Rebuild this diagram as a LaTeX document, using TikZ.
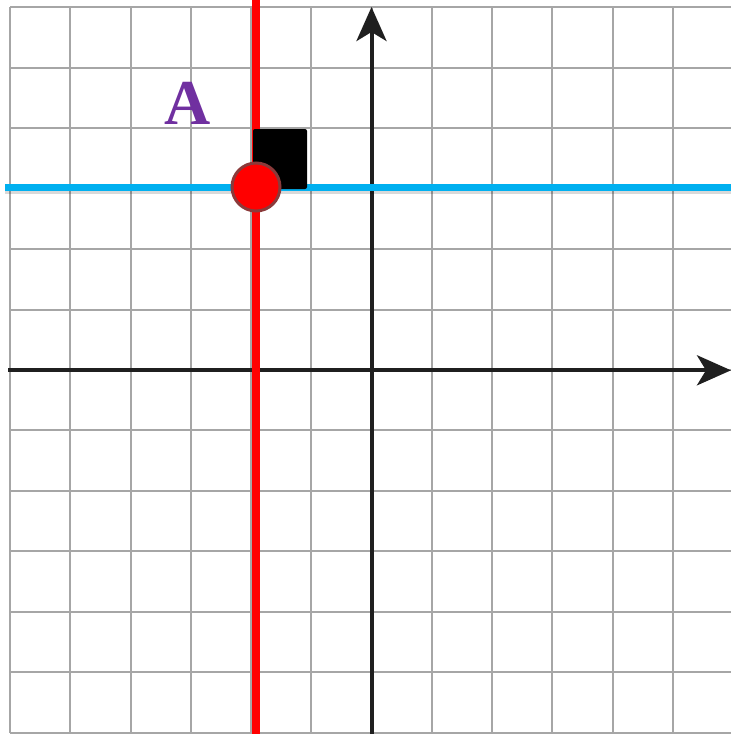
\documentclass[tikz,border=0pt]{standalone}
\usepackage{fontspec}
\setmainfont{Liberation Serif}
\usetikzlibrary{arrows.meta}
\definecolor{gridgray}{HTML}{A6A6A6}
\definecolor{skyblue}{HTML}{00B0F0}
\definecolor{ptborder}{HTML}{8B3A3A}
\definecolor{labelpurple}{HTML}{7030A0}
\tikzset{
  gridline/.style={gridgray, line width=2pt},
  axisline/.style={black!88, line width=4pt, -{Stealth[length=34pt,width=30pt,inset=9pt]}},
  redline/.style={red, line width=8pt},
  blueline/.style={skyblue, line width=7pt},
  pointdot/.style={circle, fill=red, draw=ptborder, line width=3pt, minimum size=48pt, inner sep=0pt},
  blacksq/.style={fill=black, rounded corners=2pt, minimum width=54pt, minimum height=60pt, inner sep=0pt},
  ptlabel/.style={text=labelpurple, font=\fontsize{64}{64}\selectfont\bfseries, inner sep=0pt}
}
\begin{document}
\begin{tikzpicture}[x=1pt,y=-1pt]
\useasboundingbox (0,0) rectangle (731,734);
% grid
\foreach \i in {0,...,11} {
  \draw[gridline] ({10+\i*60.25},7) -- ({10+\i*60.25},733);
}
\foreach \j in {0,...,12} {
  \draw[gridline] (10,{7.3+\j*60.45}) -- (731,{7.3+\j*60.45});
}
% axes
\coordinate (xl) at (8,370.3);
\coordinate (xr) at (731,370.3);
\coordinate (yb) at (371.5,734);
\coordinate (yt) at (371.5,7);
\draw[axisline] (xl) -- (xr);
\draw[axisline] (yb) -- (yt);
% blue line with shadow
\coordinate (bl) at (5,187.3);
\coordinate (br) at (731,187.3);
\draw[black, opacity=0.15, line width=8pt] ([yshift=-3pt]bl) -- ([yshift=-3pt]br);
\draw[blueline] (bl) -- (br);
% red line
\coordinate (rt) at (256,0);
\coordinate (rb) at (256,734);
\draw[redline] (rt) -- (rb);
% square, point, label
\node[blacksq] (sq) at (280,159) {};
\node[pointdot] (pt) at (256,187) {};
\node[ptlabel] (lab) at (188,103) {A};
\end{tikzpicture}
\end{document}
